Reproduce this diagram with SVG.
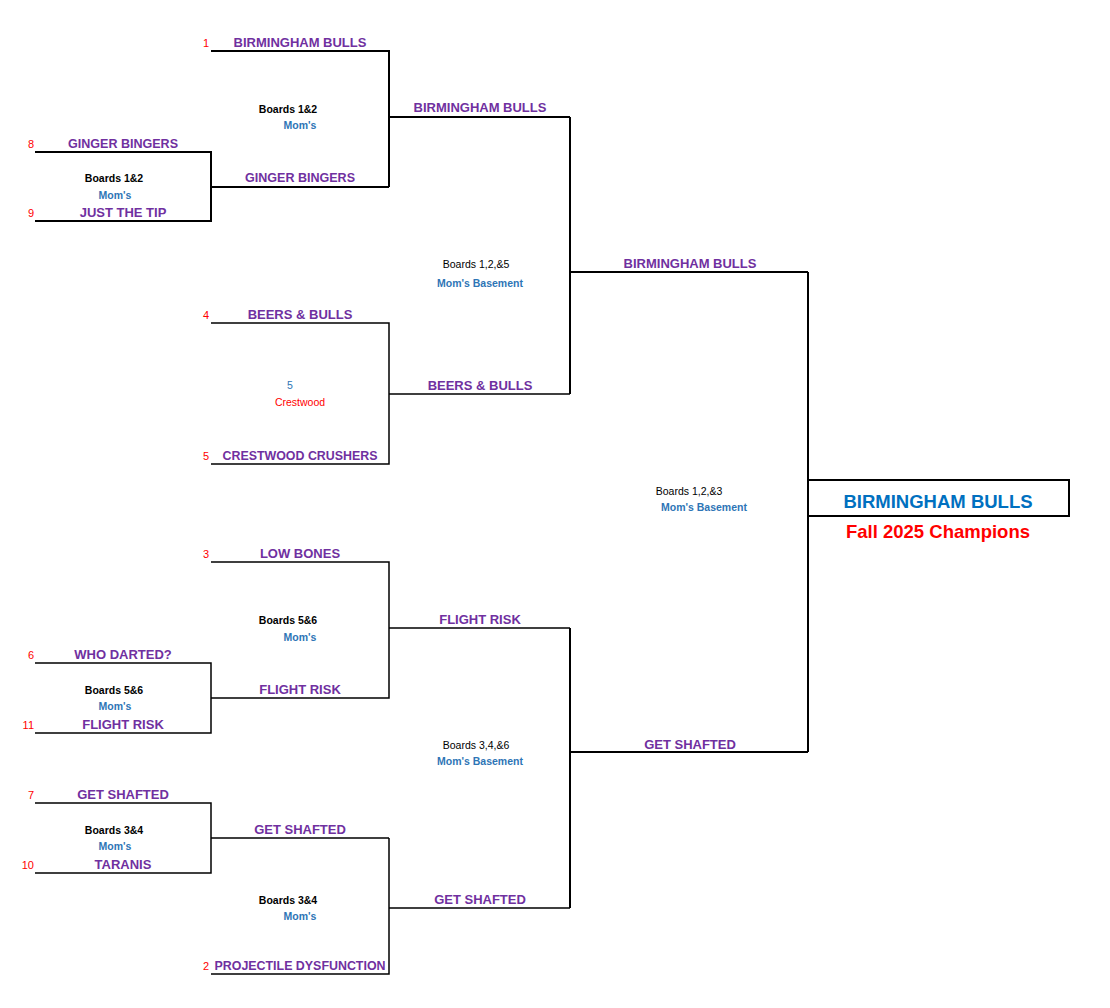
<svg xmlns="http://www.w3.org/2000/svg" width="1110" height="1008" viewBox="0 0 1110 1008">
<style>
.t{font-family:"Liberation Sans",Arial,sans-serif;font-weight:bold;font-size:13px;fill:#7030A0;text-anchor:middle}
.s{font-family:"Liberation Sans",Arial,sans-serif;font-size:11px;fill:#FF0000;text-anchor:end}
.b{font-family:"Liberation Sans",Arial,sans-serif;font-weight:bold;font-size:10.5px;fill:#000;text-anchor:middle}
.m{font-family:"Liberation Sans",Arial,sans-serif;font-weight:bold;font-size:10.5px;fill:#2E75B6;text-anchor:middle}
.c{font-family:"Liberation Sans",Arial,sans-serif;font-size:10.5px;fill:#FF0000;text-anchor:middle}
.l{fill:none;stroke:#000;stroke-width:1.5}
.k{fill:none;stroke:#000;stroke-width:2}
.ch{font-family:"Liberation Sans",Arial,sans-serif;font-weight:bold;font-size:18.5px;text-anchor:middle}
</style>
<rect width="1110" height="1008" fill="#fff"/>
<g id="connectors">
<path class="k" d="M35 152H211V221H35M211 187H389"/>
<path class="k" d="M211 51H389V187M389 117H570"/>
<path class="l" d="M211 323H389V464H211M389 394H570"/>
<path class="k" d="M570 117V394M570 272H808"/>
<path class="l" d="M211 562H389V698H211M389 628H570"/>
<path class="l" d="M35 663H211V733H35"/>
<path class="l" d="M35 803H211V873H35M211 838H389"/>
<path class="l" d="M211 974H389V838M389 908H570"/>
<path class="k" d="M570 628V908M570 752H808"/>
<path class="k" d="M808 272V752"/>
</g>
<g id="seed1"><text class="s" x="209" y="47">1</text><text class="t" x="300" y="47">BIRMINGHAM BULLS</text></g>
<g id="seed8"><text class="s" x="34" y="148">8</text><text class="t" x="123" y="148" textLength="110" lengthAdjust="spacingAndGlyphs">GINGER BINGERS</text></g>
<g id="seed9"><text class="s" x="34" y="217">9</text><text class="t" x="123" y="217">JUST THE TIP</text></g>
<g id="match-8-9"><text class="b" x="114" y="182">Boards 1&amp;2</text><text class="m" x="115" y="199">Mom's</text></g>
<g id="r2-ginger"><text class="t" x="300" y="182" textLength="110" lengthAdjust="spacingAndGlyphs">GINGER BINGERS</text></g>
<g id="match-1-8"><text class="b" x="288" y="113">Boards 1&amp;2</text><text class="m" x="300" y="129">Mom's</text></g>
<g id="r3-bulls"><text class="t" x="480" y="112">BIRMINGHAM BULLS</text></g>
<g id="seed4"><text class="s" x="209" y="319">4</text><text class="t" x="300" y="319">BEERS &amp; BULLS</text></g>
<g id="seed5"><text class="s" x="209" y="460">5</text><text class="t" x="300" y="460" textLength="155" lengthAdjust="spacingAndGlyphs">CRESTWOOD CRUSHERS</text></g>
<g id="match-4-5"><text class="m" x="290" y="389" style="font-weight:normal">5</text><text class="c" x="300" y="406">Crestwood</text></g>
<g id="r3-beers"><text class="t" x="480" y="390">BEERS &amp; BULLS</text></g>
<g id="semi-top"><text class="b" x="476" y="268" style="font-weight:normal">Boards 1,2,&amp;5</text><text class="m" x="480" y="287">Mom's Basement</text></g>
<g id="final-top"><text class="t" x="690" y="268">BIRMINGHAM BULLS</text></g>
<g id="final"><text class="b" x="689" y="495" style="font-weight:normal">Boards 1,2,&amp;3</text><text class="m" x="704" y="511">Mom's Basement</text></g>
<g id="champion">
<rect x="808" y="480" width="261" height="36" fill="none" stroke="#000" stroke-width="2"/>
<text class="ch" x="938" y="508" fill="#0070C0">BIRMINGHAM BULLS</text>
<text class="ch" x="938" y="538" fill="#FF0000">Fall 2025 Champions</text>
</g>
<g id="seed3"><text class="s" x="209" y="558">3</text><text class="t" x="300" y="558">LOW BONES</text></g>
<g id="match-3-6"><text class="b" x="288" y="624">Boards 5&amp;6</text><text class="m" x="300" y="641">Mom's</text></g>
<g id="seed6"><text class="s" x="34" y="659">6</text><text class="t" x="123" y="659">WHO DARTED?</text></g>
<g id="seed11"><text class="s" x="34" y="729">11</text><text class="t" x="123" y="729">FLIGHT RISK</text></g>
<g id="match-6-11"><text class="b" x="114" y="694">Boards 5&amp;6</text><text class="m" x="115" y="710">Mom's</text></g>
<g id="r2-flight"><text class="t" x="300" y="694">FLIGHT RISK</text></g>
<g id="r3-flight"><text class="t" x="480" y="624">FLIGHT RISK</text></g>
<g id="semi-bottom"><text class="b" x="476" y="749" style="font-weight:normal">Boards 3,4,&amp;6</text><text class="m" x="480" y="765">Mom's Basement</text></g>
<g id="final-bottom"><text class="t" x="690" y="749">GET SHAFTED</text></g>
<g id="seed7"><text class="s" x="34" y="799">7</text><text class="t" x="123" y="799">GET SHAFTED</text></g>
<g id="seed10"><text class="s" x="34" y="869">10</text><text class="t" x="123" y="869">TARANIS</text></g>
<g id="match-7-10"><text class="b" x="114" y="834">Boards 3&amp;4</text><text class="m" x="115" y="850">Mom's</text></g>
<g id="r2-shafted"><text class="t" x="300" y="834">GET SHAFTED</text></g>
<g id="match-2-7"><text class="b" x="288" y="904">Boards 3&amp;4</text><text class="m" x="300" y="920">Mom's</text></g>
<g id="r3-shafted"><text class="t" x="480" y="904">GET SHAFTED</text></g>
<g id="seed2"><text class="s" x="209" y="970">2</text><text class="t" x="300" y="970" textLength="171" lengthAdjust="spacingAndGlyphs">PROJECTILE DYSFUNCTION</text></g>
</svg>
